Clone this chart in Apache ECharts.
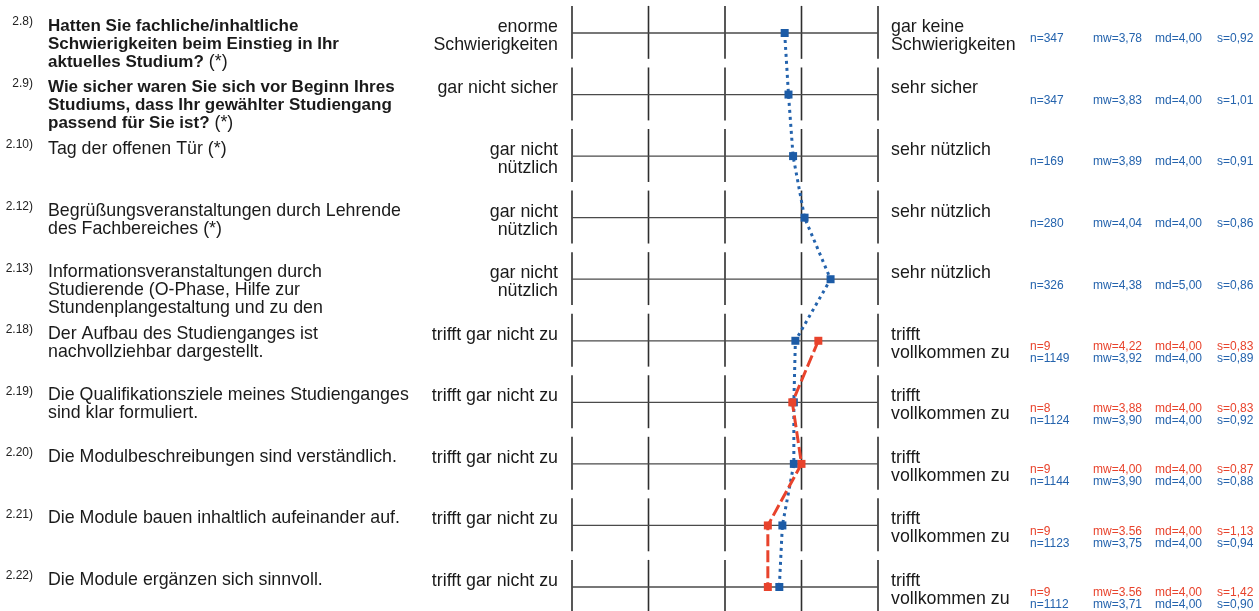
<!DOCTYPE html>
<html lang="de">
	<head>
		<meta charset="UTF-8">
		<title>Profillinie</title>
		<style type="text/css">
			html,
			body {
				margin: 0;
				padding: 0;
				background: #fff;
			}

			#main {
				width: 1259px;
				height: 611px;
			}
		</style>
	</head>
	<body>
		<div id="main"></div>

		<script src="https://cdn.jsdelivr.net/npm/echarts@6/dist/echarts.min.js" type="text/javascript" charset="utf-8"></script>
		<script type="text/javascript">
			// Fragen
			let questionNo = ['2.8)', '2.9)', '2.10)', '2.12)', '2.13)', '2.18)', '2.19)', '2.20)', '2.21)', '2.22)'];
			let questionText = [
				'Hatten Sie fachliche/inhaltliche\nSchwierigkeiten beim Einstieg in Ihr\naktuelles Studium? (*)',
				'Wie sicher waren Sie sich vor Beginn Ihres\nStudiums, dass Ihr gewählter Studiengang\npassend für Sie ist? (*)',
				'Tag der offenen Tür (*)',
				'Begrüßungsveranstaltungen durch Lehrende\ndes Fachbereiches (*)',
				'Informationsveranstaltungen durch\nStudierende (O-Phase, Hilfe zur\nStundenplangestaltung und zu den',
				'Der Aufbau des Studienganges ist\nnachvollziehbar dargestellt.',
				'Die Qualifikationsziele meines Studienganges\nsind klar formuliert.',
				'Die Modulbeschreibungen sind verständlich.',
				'Die Module bauen inhaltlich aufeinander auf.',
				'Die Module ergänzen sich sinnvoll.'
			];
			let questionBold = [true, true, false, false, false, false, false, false, false, false];
			let leftPole = ['enorme\nSchwierigkeiten', 'gar nicht sicher', 'gar nicht\nnützlich', 'gar nicht\nnützlich', 'gar nicht\nnützlich',
				'trifft gar nicht zu', 'trifft gar nicht zu', 'trifft gar nicht zu', 'trifft gar nicht zu', 'trifft gar nicht zu'
			];
			let rightPole = ['gar keine\nSchwierigkeiten', 'sehr sicher', 'sehr nützlich', 'sehr nützlich', 'sehr nützlich',
				'trifft\nvollkommen zu', 'trifft\nvollkommen zu', 'trifft\nvollkommen zu', 'trifft\nvollkommen zu', 'trifft\nvollkommen zu'
			];
			let scaleTicks = [1, 2, 3, 4, 5];

			// alle Studierenden (blau)
			let blueN = [347, 347, 169, 280, 326, 1149, 1124, 1144, 1123, 1112];
			let blueMw = [3.78, 3.83, 3.89, 4.04, 4.38, 3.92, 3.90, 3.90, 3.75, 3.71];
			let blueMd = [4, 4, 4, 4, 5, 4, 4, 4, 4, 4];
			let blueS = [0.92, 1.01, 0.91, 0.86, 0.86, 0.89, 0.92, 0.88, 0.94, 0.90];

			// Studiengang (rot), erst ab 2.18
			let redRows = [5, 6, 7, 8, 9];
			let redN = [9, 8, 9, 9, 9];
			let redMw = [4.22, 3.88, 4.00, 3.56, 3.56];
			let redMwLabel = ['4,22', '3,88', '4,00', '3.56', '3.56'];
			let redMd = [4, 4, 4, 4, 4];
			let redS = [0.83, 0.83, 0.87, 1.13, 1.42];

			const BLUE = '#2463ad';
			const RED = '#e8432c';
			const FONT = '"Liberation Sans", Arial, sans-serif';
			const TXT = '17.8px ' + FONT;

			let fmt = v => v.toFixed(2).replace('.', ',');

			let bluePoints = blueMw.map((v, i) => [v, i]);
			let redPoints = redMw.map((v, k) => [v, redRows[k]]);

			// fette Fragen: nur der Text fett, "(*)" normal
			function boldRich(text) {
				return text.split('\n').map(line => {
					let m = line.match(/^(.*?)( \(\*\))?$/);
					return '{b|' + m[1] + '}' + (m[2] ? '{n|' + m[2] + '}' : '');
				}).join('\n');
			}

			function statTexts(x, y, color, vals) {
				let offs = [0, 63, 125, 187];
				return vals.map((t, k) => ({
					type: 'text',
					style: {
						text: t,
						x: x + offs[k],
						y: y,
						fill: color,
						font: '12px ' + FONT,
						verticalAlign: 'middle'
					}
				}));
			}

			function renderRow(params, api) {
				let i = api.value(1);
				let y = api.coord([1, i])[1];
				let rowH = api.size([0, 1])[1];
				let xs = scaleTicks.map(v => api.coord([v, i])[0]);
				let children = [];
				xs.forEach(x => {
					children.push({
						type: 'line',
						shape: {
							x1: x,
							y1: y - rowH * 0.44,
							x2: x,
							y2: y + rowH * 0.42
						},
						style: {
							stroke: '#2e2e2e',
							lineWidth: 1.6
						}
					});
				});
				children.push({
					type: 'line',
					shape: {
						x1: xs[0],
						y1: y,
						x2: xs[4],
						y2: y
					},
					style: {
						stroke: '#4a4a4a',
						lineWidth: 1.3
					}
				});
				children.push({
					type: 'text',
					style: {
						text: questionNo[i],
						x: 33,
						y: y - 11,
						align: 'right',
						verticalAlign: 'middle',
						fill: '#222',
						font: '12px ' + FONT
					}
				});
				let qStyle = {
					x: 48,
					y: y - 16,
					verticalAlign: 'top',
					lineHeight: 18,
					fill: '#1a1a1a',
					font: TXT
				};
				if (questionBold[i]) {
					qStyle.text = boldRich(questionText[i]);
					qStyle.rich = {
						b: {
							font: 'bold 17px ' + FONT,
							lineHeight: 18,
							fill: '#1a1a1a'
						},
						n: {
							font: TXT,
							lineHeight: 18,
							fill: '#1a1a1a'
						}
					};
				} else {
					qStyle.text = questionText[i];
				}
				children.push({
					type: 'text',
					style: qStyle
				});
				children.push({
					type: 'text',
					style: {
						text: leftPole[i],
						x: xs[0] - 14,
						y: y - 15,
						align: 'right',
						verticalAlign: 'top',
						lineHeight: 18,
						fill: '#1a1a1a',
						font: TXT
					}
				});
				children.push({
					type: 'text',
					style: {
						text: rightPole[i],
						x: xs[4] + 13,
						y: y - 15,
						verticalAlign: 'top',
						lineHeight: 18,
						fill: '#1a1a1a',
						font: TXT
					}
				});

				let sx = xs[4] + 152;
				let blueVals = ['n=' + blueN[i], 'mw=' + fmt(blueMw[i]), 'md=' + fmt(blueMd[i]), 's=' + fmt(blueS[i])];
				let k = redRows.indexOf(i);
				if (k >= 0) {
					let redVals = ['n=' + redN[k], 'mw=' + redMwLabel[k], 'md=' + fmt(redMd[k]), 's=' + fmt(redS[k])];
					children = children.concat(statTexts(sx, y + 6, RED, redVals));
					children = children.concat(statTexts(sx, y + 18, BLUE, blueVals));
				} else {
					children = children.concat(statTexts(sx, y + 6, BLUE, blueVals));
				}

				return {
					type: 'group',
					children: children
				};
			}

			var myChart = echarts.init(document.getElementById('main'));
			var option = {
				animation: false,
				backgroundColor: '#fff',
				grid: {
					left: 572,
					right: 381,
					top: 33,
					bottom: 24
				},
				xAxis: {
					type: 'value',
					min: 1,
					max: 5,
					show: false
				},
				yAxis: {
					type: 'value',
					min: 0,
					max: 9,
					inverse: true,
					show: false
				},
				series: [{
						type: 'custom',
						silent: true,
						clip: false,
						z: 1,
						data: questionNo.map((q, i) => [1, i]),
						encode: {
							x: 0,
							y: 1
						},
						renderItem: renderRow
					},
					{
						type: 'line',
						z: 3,
						data: bluePoints,
						symbol: 'rect',
						symbolSize: 8,
						itemStyle: {
							color: '#1c5ba6'
						},
						lineStyle: {
							color: BLUE,
							width: 3,
							type: [3, 4]
						}
					},
					{
						type: 'line',
						z: 4,
						data: redPoints,
						symbol: 'rect',
						symbolSize: 8,
						itemStyle: {
							color: RED
						},
						lineStyle: {
							color: RED,
							width: 3,
							type: [12, 4]
						}
					}
				]
			};

			myChart.setOption(option);
		</script>
	</body>
</html>
